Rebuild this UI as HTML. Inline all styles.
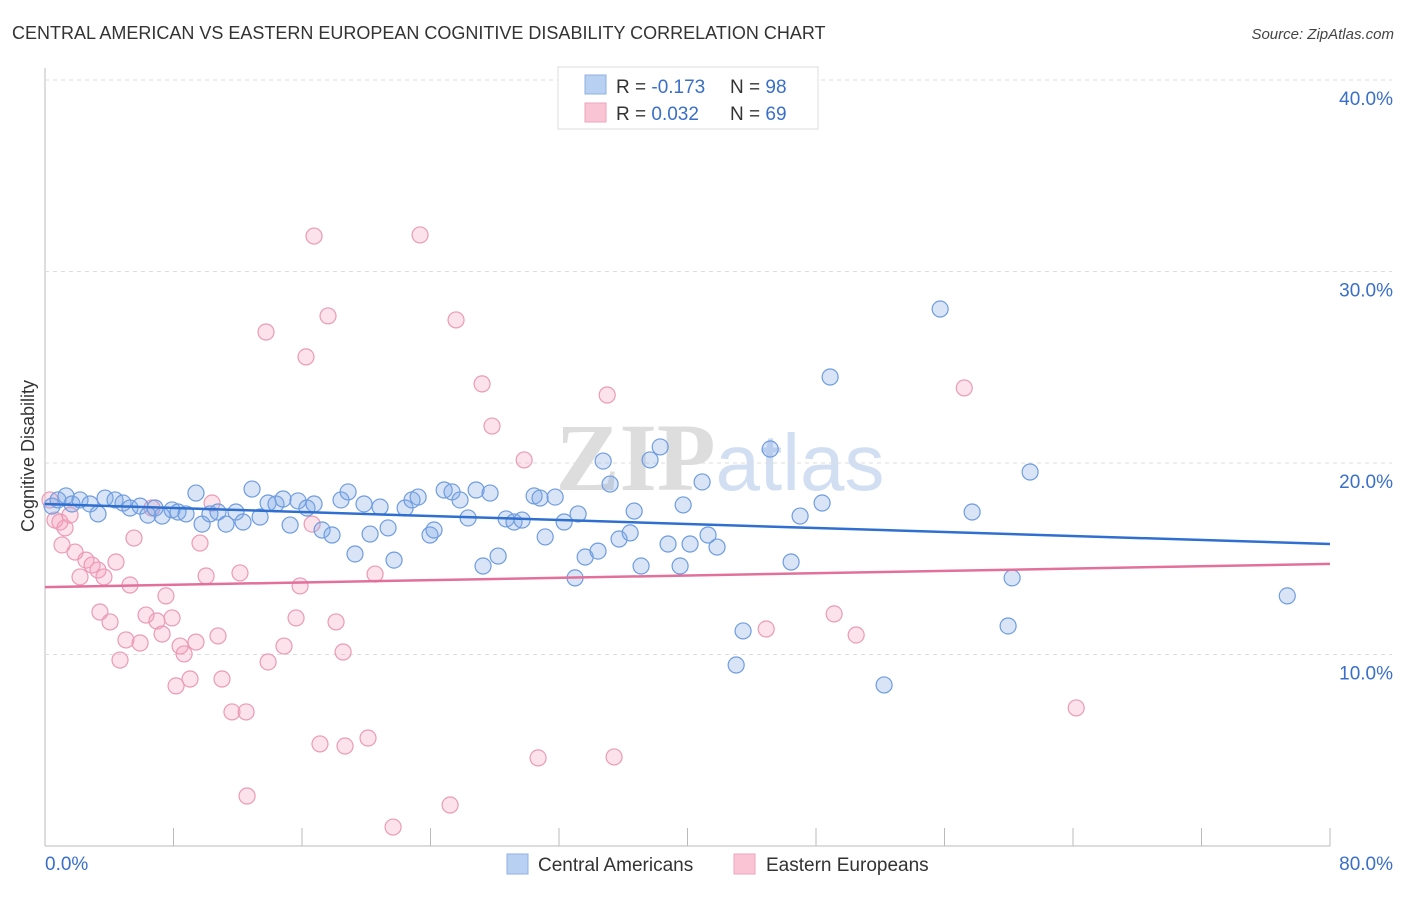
<!DOCTYPE html>
<html><head><meta charset="utf-8"><style>
body{margin:0;background:#fff;font-family:"Liberation Sans",sans-serif;}
svg text{font-family:"Liberation Sans",sans-serif;}
</style></head><body>
<svg id="chart" width="1406" height="892" xmlns="http://www.w3.org/2000/svg">
<text x="12" y="39" font-size="18" fill="#333">CENTRAL AMERICAN VS EASTERN EUROPEAN COGNITIVE DISABILITY CORRELATION CHART</text>
<text x="1394" y="39" font-size="15" fill="#444" text-anchor="end" font-style="italic">Source: ZipAtlas.com</text>
<text x="720" y="490" font-size="96" text-anchor="middle" fill="#ddd" opacity="0.8"><tspan font-family="Liberation Serif" font-weight="bold" fill="#d5d5d5">ZIP</tspan><tspan fill="#c8d8ef" font-size="80">atlas</tspan></text>
<text transform="translate(34,456) rotate(-90)" font-size="18" fill="#333" text-anchor="middle">Cognitive Disability</text>
<g id="grid"></g><g id="ticks"></g><g id="pts"></g><g id="lines"></g>
<g>
<rect x="558" y="67" width="260" height="62" fill="#fff" stroke="#ddd"/>
<rect x="585" y="75" width="21" height="19" fill="#b8d1f3" stroke="#8fb0e0"/>
<rect x="585" y="103" width="21" height="19" fill="#f9c5d4" stroke="#eda5bd"/>
<text x="616" y="93" font-size="19" fill="#333">R = <tspan fill="#3a6fc9">-0.173</tspan><tspan x="730">N = </tspan><tspan fill="#3a6fc9">98</tspan></text>
<text x="616" y="120" font-size="19" fill="#333">R = <tspan fill="#3a6fc9"> 0.032</tspan><tspan x="730">N = </tspan><tspan fill="#3a6fc9">69</tspan></text>
</g>
<g>
<rect x="507" y="854" width="21" height="20" fill="#b8d1f3" stroke="#8fb0e0"/>
<text x="538" y="871" font-size="19" fill="#333">Central Americans</text>
<rect x="734" y="854" width="21" height="20" fill="#f9c5d4" stroke="#eda5bd"/>
<text x="766" y="871" font-size="19" fill="#333">Eastern Europeans</text>
</g>
</svg>
<script>
const blueX=[0.44,0.81,1.31,1.68,2.18,2.8,3.3,3.74,4.36,4.86,5.29,5.92,6.41,6.85,7.29,7.91,8.28,8.78,9.4,9.78,10.27,10.77,11.27,11.89,12.33,12.89,13.39,13.89,14.38,14.82,15.26,15.75,16.31,16.75,17.25,17.87,18.43,18.87,19.3,19.86,20.24,20.86,21.36,21.73,22.42,22.85,23.23,23.97,24.22,24.85,25.34,25.84,26.34,26.84,27.27,27.71,28.21,28.71,29.2,29.7,30.45,30.82,31.14,31.76,32.32,33.0,33.19,33.63,34.43,34.75,35.18,35.74,36.43,36.68,37.11,37.67,38.3,38.79,39.54,39.73,40.16,40.91,41.28,41.84,43.03,43.46,45.15,46.45,47.01,48.38,48.88,52.24,55.73,57.72,59.96,60.21,61.33,77.34];
const blueY=[17.75,18.07,18.28,17.86,18.07,17.86,17.34,18.17,18.07,17.91,17.65,17.75,17.28,17.65,17.23,17.55,17.44,17.34,18.43,16.81,17.34,17.44,16.81,17.44,16.92,18.64,17.18,17.91,17.86,18.12,16.76,18.02,17.65,17.86,16.5,16.24,18.07,18.49,15.25,17.86,16.29,17.7,16.61,14.93,17.65,18.07,18.22,16.24,16.5,18.59,18.49,18.07,17.13,18.59,14.62,18.43,15.14,17.08,16.92,17.02,18.28,18.17,16.14,18.22,16.92,14.0,17.34,15.09,15.4,20.1,18.9,16.03,16.35,17.49,14.62,20.16,20.84,15.77,14.62,17.81,15.77,19.01,16.24,15.61,9.45,11.23,20.73,14.83,17.23,17.91,24.49,8.41,28.04,17.44,11.49,14.0,19.53,13.06];
const pinkX=[0.31,0.62,0.93,1.25,1.56,1.06,1.87,2.18,2.55,2.93,3.3,3.67,3.42,4.05,4.42,4.67,5.04,5.29,5.54,5.92,6.29,6.66,6.97,7.29,7.53,7.91,8.16,8.41,8.66,9.03,9.4,9.65,10.03,10.4,10.77,11.02,11.64,12.14,12.52,12.58,13.76,13.89,14.88,15.63,15.88,16.25,16.63,16.75,17.12,17.62,18.12,18.56,18.68,20.11,20.55,21.67,23.35,25.22,25.59,27.21,27.83,29.83,30.7,35.0,35.43,44.9,49.13,50.5,57.23,64.2];
const pinkY=[18.07,17.02,16.92,16.61,17.28,15.72,15.35,14.05,14.93,14.67,14.41,14.05,12.22,11.7,14.83,9.71,10.76,13.63,16.08,10.6,12.06,17.65,11.75,11.07,13.06,11.91,8.36,10.44,10.03,8.72,10.65,15.82,14.1,17.91,10.97,8.72,7.0,14.26,7.0,2.61,26.84,9.61,10.44,11.91,13.58,25.54,16.81,31.85,5.33,27.68,11.7,10.13,5.22,5.64,14.2,0.99,31.91,2.14,27.47,24.13,21.93,20.16,4.6,23.55,4.65,11.33,12.12,11.02,23.92,7.21];
const blueTrend=[17.86,15.77];
const pinkTrend=[13.52,14.73];
const yTicks=[10,20,30,40];
const yTickLabels=["10.0%","20.0%","30.0%","40.0%"];
const xTicks=[0,8,16,24,32,40,48,56,64,72,80];
const NS="http://www.w3.org/2000/svg";
const X0=45,X1=1330,Y0=846,PY=19.15;
function sx(v){return X0+(X1-X0)*v/80;}
function sy(v){return Y0-v*PY;}
function mk(t,a,p){const e=document.createElementNS(NS,t);for(const k in a)e.setAttribute(k,a[k]);document.getElementById(p).appendChild(e);return e;}
let ax=mk('line',{x1:X0,y1:Y0,x2:X1,y2:Y0,stroke:'#bbb'},'grid');


let ay=mk('line',{x1:X0,y1:68,x2:X0,y2:Y0,stroke:'#bbb'},'grid');


yTicks.forEach((t,i)=>{
 let g=mk('line',{x1:X0,y1:sy(t),x2:1392,y2:sy(t),stroke:'#ddd','stroke-dasharray':'4,4'},'grid');
 
 
 let l=mk('text',{x:1393,y:sy(t)+25,'font-size':19,fill:'#3a6fc9','text-anchor':'end'},'ticks');
 l.textContent=yTickLabels[i];
 
 
});
xTicks.forEach(t=>{
 let k=mk('line',{x1:sx(t),y1:Y0,x2:sx(t),y2:Y0-18,stroke:'#bbb'},'ticks');
 
 
});
let xl=mk('text',{x:45,y:870,'font-size':19,fill:'#3a6fc9'},'ticks');xl.textContent='0.0%';


let xr=mk('text',{x:1393,y:870,'font-size':19,fill:'#3a6fc9','text-anchor':'end'},'ticks');xr.textContent='80.0%';


pinkX.forEach((x,i)=>{
 let c=mk('circle',{cx:sx(x),cy:sy(pinkY[i]),r:8,fill:'rgba(244,160,188,0.3)',stroke:'#eb9ab6','stroke-width':1.2},'pts');
 
 
});
blueX.forEach((x,i)=>{
 let c=mk('circle',{cx:sx(x),cy:sy(blueY[i]),r:8,fill:'rgba(130,170,230,0.3)',stroke:'#6e9ce0','stroke-width':1.2},'pts');
 
 
});
let bl=mk('line',{x1:sx(0),y1:sy(blueTrend[0]),x2:sx(80),y2:sy(blueTrend[1]),stroke:'#2f6fd0','stroke-width':2.5},'lines');


let pl=mk('line',{x1:sx(0),y1:sy(pinkTrend[0]),x2:sx(80),y2:sy(pinkTrend[1]),stroke:'#e3709a','stroke-width':2.5},'lines');


</script>
</body></html>
